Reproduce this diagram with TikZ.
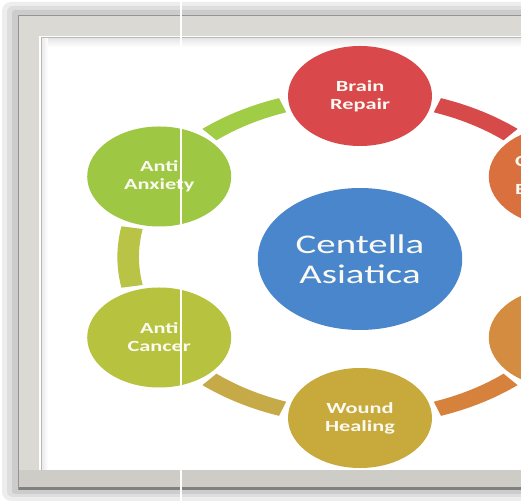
\documentclass[tikz,border=0pt]{standalone}
\usepackage{fontspec}
\newfontfamily\carlito{Carlito}
\definecolor{framegray}{RGB}{219,217,211}
\definecolor{framegraydark}{RGB}{206,204,198}
\definecolor{labelwhite}{RGB}{250,250,242}
\definecolor{hubblue}{RGB}{74,134,204}
\definecolor{brainred}{RGB}{217,72,74}
\definecolor{anxgreen}{RGB}{158,199,68}
\definecolor{cancergreen}{RGB}{183,195,62}
\definecolor{woundgold}{RGB}{200,169,60}
\definecolor{cogorange}{RGB}{217,112,62}
\definecolor{skinorange}{RGB}{211,140,64}
\definecolor{segA}{RGB}{160,204,70}
\definecolor{segB}{RGB}{185,195,70}
\definecolor{segC}{RGB}{199,170,72}
\definecolor{segD}{RGB}{214,74,74}
\definecolor{segE}{RGB}{214,130,60}
\begin{document}
\begin{tikzpicture}[x=1pt,y=1pt,
  bubble/.style={circle, minimum size=100pt, inner sep=0pt, text=labelwhite,
    font=\carlito\bfseries\fontsize{15.5}{18}\selectfont, align=center},
  hub/.style={circle, minimum size=142pt, inner sep=0pt, fill=hubblue, text=labelwhite,
    font=\carlito\fontsize{27}{30}\selectfont, align=center},
  edgetext/.style={inner sep=0pt, text=labelwhite, align=left,
    font=\carlito\bfseries\fontsize{15.5}{28}\selectfont}]
\useasboundingbox (0,0) rectangle (521,502);
\clip (0,0) rectangle (521,502);
% soft shadow
\fill[black!7, rounded corners=9pt] (2,1) rectangle (540,500);
\fill[black!13, rounded corners=6pt] (7,5) rectangle (540,496);
\fill[black!20, rounded corners=3pt] (12,8) rectangle (540,492);
% frame
\fill[framegray] (18,12) rectangle (540,487);
\fill[framegraydark] (18,14) rectangle (540,32);
\fill[black!50] (18,12) rectangle (540,14.5);
\draw[black!42, line width=1pt] (18.5,12) -- (18.5,486.5) -- (540,486.5);
\fill[white] (42,32) rectangle (540,464);
\draw[white, line width=1.2pt] (40,32) -- (40,465.6) -- (540,465.6);
\draw[black!28, line width=0.8pt] (41.6,32) -- (41.6,464.2) -- (540,464.2);
\shade[top color=black!10, bottom color=white] (42,455) rectangle (540,463.8);
\shade[left color=black!8, right color=white] (42,32) rectangle (48,463.8);
% ring diagram
\begin{scope}[shift={(360,245)}, xscale=1.44, transform shape]
  \foreach \m/\c in {120/segA, 180/segB, 240/segC, 60/segD, 300/segE} {
    \pgfmathsetmacro\angA{\m-10.5}
    \pgfmathsetmacro\angB{\m+10.5}
    \fill[\c] (\angA:153.5) arc[start angle=\angA, end angle=\angB, radius=153.5]
      -- (\angB:168.5) arc[start angle=\angB, end angle=\angA, radius=168.5] -- cycle;
  }
  \node[bubble, fill=brainred] (brain) at (90:161) {Brain\\Repair};
  \node[bubble, fill=anxgreen] (anxiety) at (150:161) {Anti\\Anxiety};
  \node[bubble, fill=cancergreen] (cancer) at (210:161) {Anti\\Cancer};
  \node[bubble, fill=woundgold] (wound) at (270:161) {Wound\\Healing};
  \node[bubble, fill=cogorange] (cog) at (30:161) {};
  \node[bubble, fill=skinorange] (skin) at (-30:161) {};
  \node[edgetext, anchor=west] (cogtext) at (107.6,82) {C\\B};
  \node[hub] (hub) at (0,-2) {Centella\\Asiatica};
\end{scope}
% white scan line
\fill[white] (180,0) rectangle (182,502);
\end{tikzpicture}
\end{document}
